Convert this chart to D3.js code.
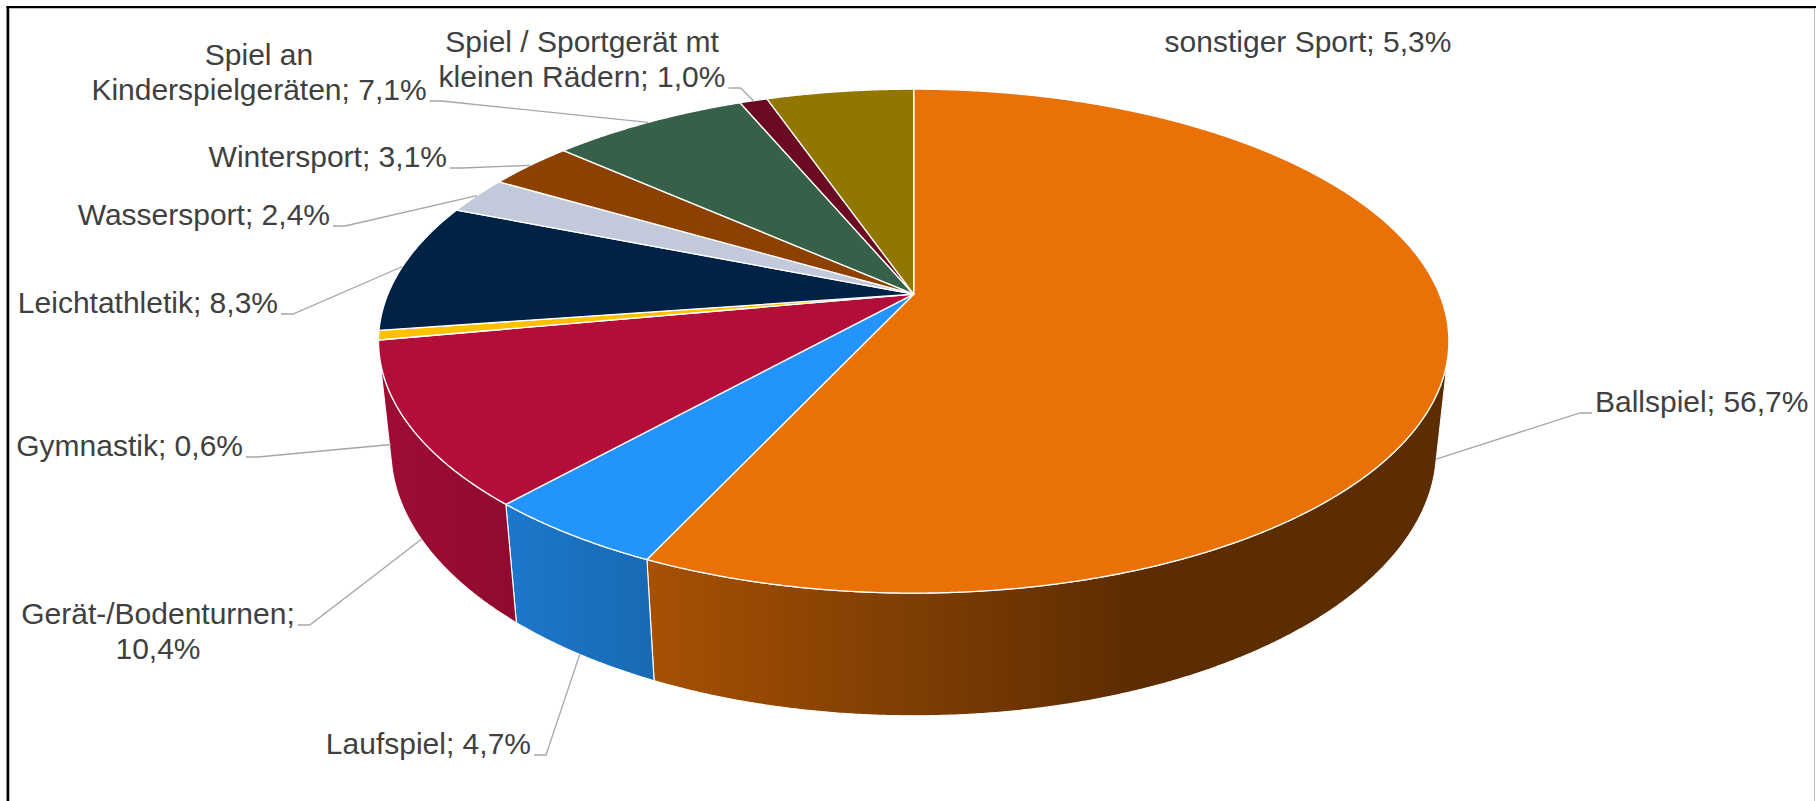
<!DOCTYPE html>
<html><head><meta charset="utf-8">
<script src="https://cdn.jsdelivr.net/npm/d3@7"></script>
<style>html,body{margin:0;padding:0;background:#fff}svg{display:block}</style>
</head><body><svg id="chart" width="1816" height="801"></svg>
<script>
// ---------- data ----------
const categories = ["Ballspiel","Laufspiel","Gerät-/Bodenturnen","Gymnastik","Leichtathletik","Wassersport","Wintersport","Spiel an Kinderspielgeräten","Spiel / Sportgerät mt kleinen Rädern","sonstiger Sport"];
const values = [56.7,4.7,10.4,0.6,8.3,2.4,3.1,7.1,1.0,5.3];
const valueLabels = ["56,7%","4,7%","10,4%","0,6%","8,3%","2,4%","3,1%","7,1%","1,0%","5,3%"];
const colors = ["#E97106","#2394FC","#B30E3A","#FFC000","#002246","#C1C9DA","#8C4100","#376049","#6B0B23","#917600"];

// ---------- label layout (positions only) ----------
// breakAfter: number of words on the first line (null = single line)
const labelLayout = [
  {x:1595, y:412, anchor:"start",  breakAfter:null, attach:0, side:"left"},
  {x:531,  y:754, anchor:"end",    breakAfter:null, attach:0, side:"right"},
  {x:158,  y:624, anchor:"middle", breakAfter:1,    attach:0, side:"right"},
  {x:243,  y:456, anchor:"end",    breakAfter:null, attach:0, side:"right"},
  {x:278,  y:313, anchor:"end",    breakAfter:null, attach:0, side:"right"},
  {x:330,  y:225, anchor:"end",    breakAfter:null, attach:0, side:"right"},
  {x:447,  y:167, anchor:"end",    breakAfter:null, attach:0, side:"right"},
  {x:259,  y:65,  anchor:"middle", breakAfter:2,    attach:1, side:"right"},
  {x:582,  y:52,  anchor:"middle", breakAfter:4,    attach:1, side:"right"},
  {x:1308, y:52,  anchor:"middle", breakAfter:null, attach:null, side:null}
];

// ---------- view / projection ----------
const W = 1816, H = 801;
const cx = 913.7, cy = 294.2, F = 2502.6, D = 1, R = 0.2101, TH = 0.04933;
const sa = 0.4626, ca = Math.sqrt(1 - sa*sa);
const lineH = 35, fontSize = 30;

function proj(phi, Y) {
  const X = R*Math.sin(phi), Z = -R*Math.cos(phi);
  const d = D - Y*sa - Z*ca;
  return [cx + F*X/d, cy - F*(Y*ca - Z*sa)/d];
}
function arcPts(a0, a1, Y) {
  const step = Math.PI/720;
  const n = Math.max(2, Math.ceil(Math.abs(a1-a0)/step));
  const pts = [];
  for (let i=0;i<=n;i++) pts.push(proj(a0 + (a1-a0)*i/n, Y));
  return pts;
}

const svg = d3.select("#chart");
const defs = svg.append("defs");
const line = d3.line();

// frame
svg.append("rect").attr("x",9.5).attr("y",8.5).attr("width",1805).attr("height",820)
  .attr("fill","none").attr("stroke","#BFBFBF").attr("stroke-width",1);
svg.append("line").attr("x1",6.5).attr("x2",W).attr("y1",7).attr("y2",7).attr("stroke","#000").attr("stroke-width",2.2);
svg.append("line").attr("x1",7.8).attr("x2",7.8).attr("y1",6).attr("y2",H).attr("stroke","#000").attr("stroke-width",2.5);

const pie = d3.pie().sort(null).value(d=>d).startAngle(0).endAngle(2*Math.PI);
const arcs = pie(values);

// gradients for side walls
function scaleCol(c, f) {
  const rgb = d3.rgb(c);
  return d3.rgb(rgb.r*f, rgb.g*f, rgb.b*f).formatHex();
}
arcs.forEach((a,i)=>{
  const g = defs.append("linearGradient").attr("id","wall"+i)
    .attr("gradientUnits","userSpaceOnUse").attr("x1",380).attr("x2",1130).attr("y1",0).attr("y2",0);
  g.append("stop").attr("offset",0).attr("stop-color",scaleCol(colors[i],0.89));
  g.append("stop").attr("offset",1).attr("stop-color",scaleCol(colors[i],0.40));
});

// walls (visible range only)
const vMin = Math.acos(-R/(D*ca)), vMax = 2*Math.PI - vMin;
const wallG = svg.append("g");
arcs.forEach((a,i)=>{
  const a0 = Math.max(a.startAngle, vMin), a1 = Math.min(a.endAngle, vMax);
  if (a1 <= a0) return;
  const pts = arcPts(a0, a1, 0).concat(arcPts(a1, a0, -TH));
  wallG.append("path").attr("d", line(pts)+"Z")
    .attr("fill","url(#wall"+i+")").attr("stroke","#FFFFFF").attr("stroke-width",1.1)
    .attr("stroke-linejoin","round");
});

// tops
const topG = svg.append("g");
arcs.forEach((a,i)=>{
  const pts = [[cx,cy]].concat(arcPts(a.startAngle, a.endAngle, 0));
  topG.append("path").attr("d", line(pts)+"Z")
    .attr("fill",colors[i]).attr("stroke","#FFFFFF").attr("stroke-width",1.3)
    .attr("stroke-linejoin","round");
});

// labels + leader lines
const labG = svg.append("g").attr("font-family","'Liberation Sans', Arial, sans-serif")
  .attr("font-size",fontSize).attr("fill","#404040");
const leadG = svg.append("g");
arcs.forEach((a,i)=>{
  const L = labelLayout[i];
  const full = categories[i] + "; " + valueLabels[i];
  const words = full.split(" ");
  const lines = L.breakAfter ? [words.slice(0,L.breakAfter).join(" "), words.slice(L.breakAfter).join(" ")] : [full];
  const nodes = lines.map((t,k)=> labG.append("text").attr("x",L.x).attr("y",L.y + k*lineH)
      .attr("text-anchor",L.anchor).text(t));
  if (L.attach === null) return;
  const tn = nodes[L.attach].node();
  const w = tn.getComputedTextLength();
  let left, right;
  if (L.anchor === "start") { left = L.x; right = L.x + w; }
  else if (L.anchor === "end") { left = L.x - w; right = L.x; }
  else { left = L.x - w/2; right = L.x + w/2; }
  const by = L.y + L.attach*lineH + 1;
  const mid = (a.startAngle + a.endAngle)/2;
  const anchorPt = proj(mid, Math.cos(mid) < 0 ? -TH : 0);
  let p0, p1;
  if (L.side === "right") { p0 = [right+3, by]; p1 = [right+15, by]; }
  else { p0 = [left-3, by]; p1 = [left-15, by]; }
  leadG.append("path").attr("d", line([p0,p1,anchorPt]))
    .attr("fill","none").attr("stroke","#A6A6A6").attr("stroke-width",1.3);
});
</script>
</body></html>
